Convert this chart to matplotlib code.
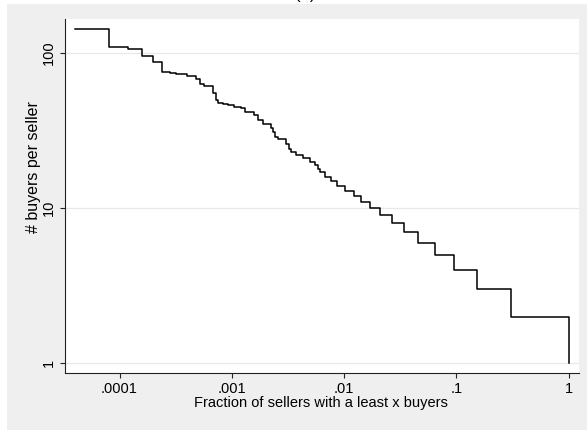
import numpy as np
import matplotlib.pyplot as plt
from matplotlib.patches import Rectangle

# buyers per seller (distinct values, largest first) and how many sellers
# have at least that many buyers
buyers = [143, 109, 107, 96, 88, 76, 74, 73, 71, 68, 63, 61, 55, 50, 48, 47,
          46, 45, 44, 42, 40, 37, 35, 33, 31, 29, 28, 26, 24, 23, 22, 21, 20,
          19, 18, 17, 16, 15, 14, 13, 12, 11, 10, 9, 8, 7, 6, 5, 4, 3, 2, 1]
sellers_at_least = [1, 2, 3, 4, 5, 6, 7, 8, 10, 12, 13, 14, 17, 18, 19, 21,
                    23, 26, 30, 33, 39, 43, 47, 56, 58, 61, 64, 76, 80, 85, 93,
                    108, 124, 138, 145, 153, 169, 190, 218, 255, 306, 356, 428,
                    519, 664, 854, 1130, 1602, 2366, 3837, 7657, 25000]
n_sellers = 25000

x_ticks = [0.0001, 0.001, 0.01, 0.1, 1]
x_ticklabels = ['.0001', '.001', '.01', '.1', '1']
y_ticks = [1, 10, 100]
y_ticklabels = ['1', '10', '100']

frac = np.array(sellers_at_least) / n_sellers

plt.rcParams['font.family'] = ['Liberation Sans', 'DejaVu Sans']
fs = 10.5

fig = plt.figure(figsize=(5.87, 4.30), dpi=100)
fig.patch.set_facecolor('white')
# grey graph region behind the plot
fig.add_artist(Rectangle((7 / 587, 0), 1, 1 - 4 / 430,
                         transform=fig.transFigure, facecolor='#efefef',
                         edgecolor='none', zorder=-10))

ax = fig.add_axes([65 / 587, (430 - 373.3) / 430, 514 / 587, 354.3 / 430])
ax.set_zorder(1)
ax.set_facecolor('white')
ax.step(frac, buyers, where='post', color='black', lw=1.1, zorder=3)

ax.set_xscale('log')
ax.set_yscale('log')
ax.set_xlim(3.27e-5, 1.235)
ax.set_ylim(0.862, 166)

ax.set_xticks(x_ticks)
ax.set_xticklabels(x_ticklabels)
ax.set_yticks(y_ticks)
ax.set_yticklabels(y_ticklabels, rotation=90, va='center')
ax.minorticks_off()
ax.tick_params(axis='both', direction='out', length=3.8, width=0.8,
               color='#222222', labelsize=fs, pad=2.5)
ax.grid(axis='y', color='#e8e8e8', lw=0.9)
ax.set_axisbelow(True)

for side in ['top', 'right']:
    ax.spines[side].set_visible(False)
for side in ['left', 'bottom']:
    ax.spines[side].set_color('#222222')
    ax.spines[side].set_linewidth(0.8)

fig.text(321 / 587, 1 - 403 / 430, 'Fraction of sellers with a least x buyers',
         ha='center', va='center', fontsize=fs)
fig.text(34 / 587, 1 - 167 / 430, '# buyers per seller', rotation=90,
         ha='center', va='center', fontsize=11.5)
fig.text(305 / 587, 1 + 5 / 430, '(b)', ha='center', va='center', fontsize=12)

fig.savefig('out.png', dpi=100)
